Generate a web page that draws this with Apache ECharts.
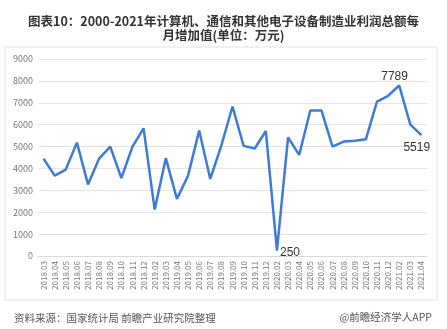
<!DOCTYPE html>
<html>
<head>
<meta charset="utf-8">
<script src="https://cdn.jsdelivr.net/npm/echarts@6/dist/echarts.min.js"></script>
<style>html,body{margin:0;padding:0;background:#fff;}#c{width:447px;height:329px;}</style>
</head>
<body>
<div id="c"></div>
<script>
var categories = ['2018.03','2018.04','2018.05','2018.06','2018.07','2018.08','2018.09','2018.10','2018.11','2018.12',
  '2019.02','2019.03','2019.04','2019.05','2019.06','2019.07','2019.08','2019.09','2019.10','2019.11','2019.12',
  '2020.02','2020.03','2020.04','2020.05','2020.06','2020.07','2020.08','2020.09','2020.10','2020.11','2020.12',
  '2021.02','2021.03','2021.04'];
var values = [4450,3670,3950,5180,3270,4450,5000,3560,5000,5830,
  2120,4470,2610,3670,5730,3520,5050,6830,5030,4910,5710,
  250,5420,4620,6650,6650,5000,5230,5270,5330,7050,7320,
  7789,6000,5519];
var labeledPoints = {'2020.02':'right','2021.02':'top','2021.04':'bottom'};
var yTicks = {min:0, max:9000, interval:1000};

var font = '"Noto Sans CJK SC", "Noto Sans", sans-serif';
var seriesData = values.map(function(v, i){
  var pos = labeledPoints[categories[i]];
  if (pos) {
    var lbl = {show:true, position:pos, color:'#333', fontSize:12, fontFamily:'Arial, "Liberation Sans", sans-serif'};
    if (pos === 'right') { lbl.position = [3, -4]; }
    if (pos === 'top') { lbl.position = [-18, -15]; }
    if (pos === 'bottom') { lbl.position = [-18, 6]; }
    return {value:v, label:lbl};
  }
  return v;
});

var chart = echarts.init(document.getElementById('c'), null, {renderer:'canvas'});
chart.setOption({
  backgroundColor:'#fff',
  animation:false,
  title:[
    {text:'图表10：2000-2021年计算机、通信和其他电子设备制造业利润总额每\n月增加值(单位：万元)', left:'center', top:9,
     textStyle:{fontSize:12.5, fontWeight:'bold', color:'#333', fontFamily:font, lineHeight:14}},
    {text:'资料来源：国家统计局 前瞻产业研究院整理', left:9, top:308,
     textStyle:{fontSize:10.5, fontWeight:'normal', color:'#555', fontFamily:font}},
    {text:'@前瞻经济学人APP', right:10, top:307,
     textStyle:{fontSize:10.5, fontWeight:'normal', color:'#555', fontFamily:font}}
  ],
  graphic:[
    {type:'rect', shape:{x:5, y:47, width:432, height:253}, style:{fill:'none', stroke:'#e2e2e2', lineWidth:1}, z:-1}
  ],
  grid:{left:38, right:20, top:59, bottom:73},
  xAxis:{
    type:'category', data:categories, boundaryGap:true,
    axisLine:{lineStyle:{color:'#d9d9d9'}},
    axisTick:{show:false},
    axisLabel:{rotate:90, interval:0, fontSize:8, color:'#777', fontFamily:font, margin:5}
  },
  yAxis:{
    type:'value', min:yTicks.min, max:yTicks.max, interval:yTicks.interval,
    axisLine:{show:false}, axisTick:{show:false},
    axisLabel:{fontSize:9, color:'#777', fontFamily:font, margin:5, formatter:function(v){return String(v);}},
    splitLine:{lineStyle:{color:'#e3e3e3'}}
  },
  series:[{
    type:'line', data:seriesData, showSymbol:true, symbol:'circle', symbolSize:0,
    lineStyle:{color:'#3d7bd8', width:2.5},
    itemStyle:{color:'#3d7bd8'}
  }]
});
</script>
</body>
</html>
